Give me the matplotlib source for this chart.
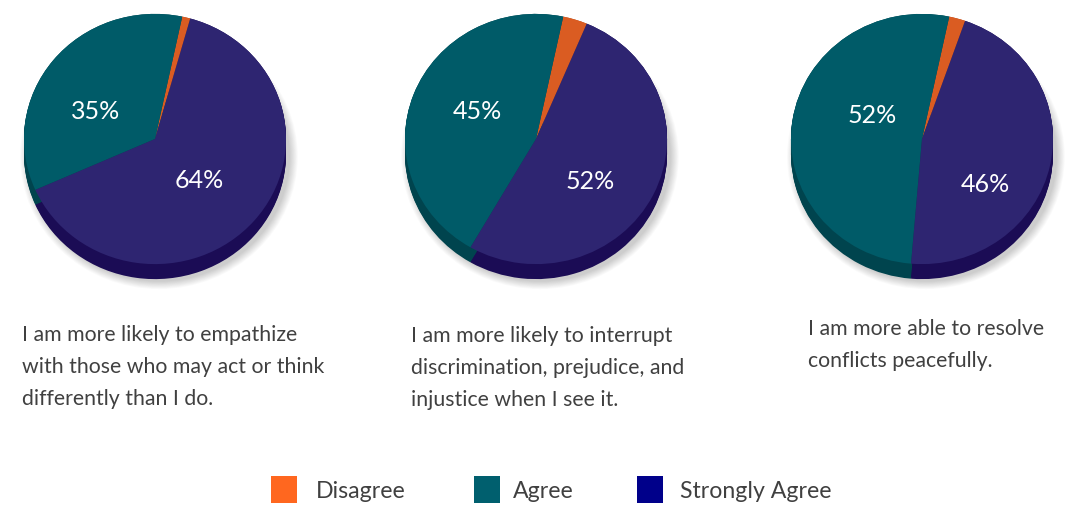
import numpy as np
import matplotlib.pyplot as plt
from matplotlib.patches import Ellipse, Rectangle

plt.rcParams['font.family'] = ['Lato', 'DejaVu Sans']

categories = ['Disagree', 'Agree', 'Strongly Agree']
empathize = [1, 35, 64]
interrupt = [3, 45, 52]
resolve = [2, 52, 46]
series = [empathize, interrupt, resolve]

captions = [
    'I am more likely to empathize\nwith those who may act or think\ndifferently than I do.',
    'I am more likely to interrupt\ndiscrimination, prejudice, and\ninjustice when I see it.',
    'I am more able to resolve\nconflicts peacefully.',
]

top_colors = ['#DA5C22', '#005B68', '#2E2571']
side_colors = ['#A8441A', '#00444E', '#1B0C55']
legend_colors = ['#FF671F', '#005F6E', '#00008A']

W, H = 1071, 507
fig = plt.figure(figsize=(W / 100, H / 100), dpi=100)

R = 131          # pie radius in px
SQ = 0.955       # vertical squash of the tilted pie
DEPTH = 15       # extrusion depth in px
centers_x = [155, 536, 922]
center_y = 139
x_lim = (-1.25, 1.25)
y_lim = (-1.4, 1.15)

# label offsets in pie units (agree, strongly agree)
label_pos = [[(-0.45, 0.22), (0.34, -0.33)],
             [(-0.45, 0.22), (0.41, -0.34)],
             [(-0.38, 0.19), (0.48, -0.36)]]

for vals, cx, lp in zip(series, centers_x, label_pos):
    w_px = (x_lim[1] - x_lim[0]) * R
    h_px = (y_lim[1] - y_lim[0]) * R * SQ
    left = cx + x_lim[0] * R
    bottom = (H - center_y) + y_lim[0] * R * SQ
    ax = fig.add_axes([left / W, bottom / H, w_px / W, h_px / H])

    depth_u = DEPTH / (R * SQ)
    start = 78 - 3.6 * vals[0]

    # soft shadow
    for k in np.linspace(0.06, 0.0, 10):
        ax.add_patch(Ellipse((0.03, -depth_u - 0.02), 2 * (1 + k), 2 * (1 + k),
                             color='black', alpha=0.018, lw=0, zorder=0))

    # extruded side
    for d in np.linspace(0, depth_u, 18):
        ax.pie(vals, colors=side_colors, startangle=start, center=(0, -d),
               radius=1, wedgeprops=dict(linewidth=0))

    # top face
    ax.pie(vals, colors=top_colors, startangle=start, radius=1,
           wedgeprops=dict(linewidth=0))

    for (tx, ty), v in zip(lp, vals[1:]):
        ax.text(tx, ty, f'{v}%', color='white', ha='center', va='center',
                fontsize=18)

    ax.set_aspect('auto')
    ax.set_xlim(*x_lim)
    ax.set_ylim(*y_lim)
    ax.axis('off')

# captions
caption_x = [22, 411, 808]
caption_y = [341, 342, 335]
for txt, x, y in zip(captions, caption_x, caption_y):
    for i, line in enumerate(txt.split('\n')):
        fig.text(x / W, 1 - (y + 32 * i) / H, line, fontsize=15.3,
                 color='#404040', va='baseline', ha='left')

# legend
sq_x = [271, 474, 637]
txt_x = [316, 513, 680]
for c, lab, sx, tx in zip(legend_colors, categories, sq_x, txt_x):
    fig.add_artist(Rectangle((sx / W, 1 - 503 / H), 26 / W, 27 / H,
                             transform=fig.transFigure, color=c, lw=0))
    fig.text(tx / W, 1 - 491 / H, lab, fontsize=16.7, color='#404040',
             va='center', ha='left')

fig.savefig('out.png', dpi=100)
